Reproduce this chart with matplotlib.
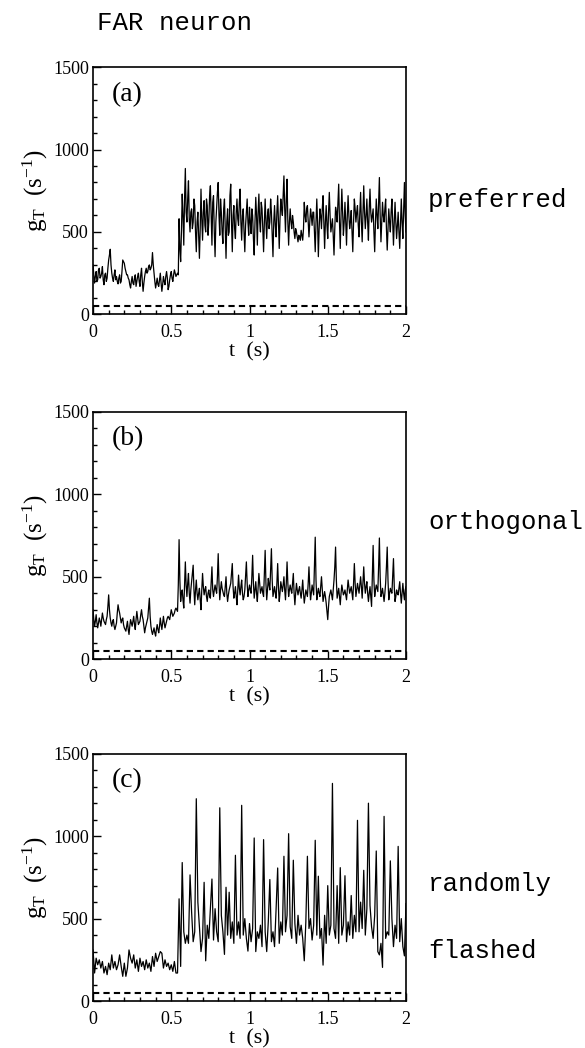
import matplotlib
matplotlib.use('Agg')
import matplotlib.pyplot as plt
import numpy as np
from matplotlib.ticker import MultipleLocator

plt.rcParams['font.family'] = ['Liberation Serif', 'DejaVu Serif']
plt.rcParams['mathtext.fontset'] = 'custom'
plt.rcParams['mathtext.rm'] = 'Liberation Serif'
plt.rcParams['mathtext.default'] = 'regular'

# g_T for the preferred direction, 5 ms steps over 0 .. 2 s
g_pref = [
    300, 240, 190, 230, 260, 200, 210, 270, 280, 220, 230, 250, 290, 210, 180, 240, 250, 200, 220, 280,
    330, 360, 395, 300, 250, 220, 200, 240, 270, 210, 230, 200, 185, 220, 240, 190, 200, 260, 330, 320,
    310, 280, 260, 240, 240, 220, 210, 180, 160, 200, 230, 190, 180, 220, 240, 170, 200, 230, 250, 200,
    170, 240, 280, 200, 140, 190, 230, 260, 280, 250, 260, 290, 300, 270, 280, 300, 375, 300, 250, 200,
    160, 190, 220, 180, 170, 210, 250, 190, 140, 180, 230, 200, 180, 230, 260, 220, 150, 170, 210, 240,
    260, 220, 200, 240, 270, 250, 230, 240, 250, 240, 580, 400, 320, 500, 730, 600, 420, 700, 885, 620,
    560, 700, 810, 580, 500, 620, 640, 520, 560, 700, 660, 500, 380, 560, 620, 470, 340, 520, 760, 580,
    450, 620, 690, 540, 500, 700, 660, 480, 560, 720, 780, 600, 420, 680, 720, 500, 350, 560, 650, 740,
    800, 600, 480, 700, 620, 500, 430, 640, 700, 520, 340, 560, 640, 480, 500, 720, 790, 560, 380, 600,
    660, 520, 460, 620, 700, 580, 540, 680, 760, 560, 450, 600, 640, 500, 380, 540, 620, 700, 560, 480,
    650, 560, 490, 640, 600, 460, 360, 560, 710, 600, 420, 620, 730, 560, 500, 680, 640, 520, 380, 560,
    700, 560, 460, 600, 640, 520, 560, 700, 620, 480, 350, 560, 660, 540, 470, 620, 720, 560, 400, 580,
    700, 640, 600, 720, 840, 640, 500, 700, 820, 560, 420, 560, 640, 560, 520, 600, 560, 500, 460, 520,
    500, 470, 440, 480, 470, 450, 510, 480, 450, 520, 680, 600, 560, 640, 660, 560, 470, 560, 640, 600,
    540, 620, 620, 500, 380, 560, 700, 560, 350, 520, 640, 600, 520, 640, 720, 560, 400, 560, 660, 540,
    460, 620, 740, 600, 500, 540, 580, 480, 360, 520, 650, 620, 560, 680, 790, 560, 400, 600, 760, 620,
    480, 560, 680, 560, 420, 600, 720, 600, 520, 560, 630, 500, 380, 560, 700, 640, 560, 620, 660, 540,
    470, 620, 740, 560, 440, 620, 780, 620, 520, 600, 700, 560, 450, 640, 760, 620, 560, 600, 640, 500,
    380, 560, 700, 600, 520, 680, 830, 600, 440, 560, 680, 600, 560, 640, 700, 520, 390, 520, 640, 560,
    500, 620, 700, 560, 420, 560, 680, 560, 460, 540, 620, 500, 400, 560, 700, 560, 460, 620, 800, 600,
    500,
]

# g_T for the orthogonal direction, 5 ms steps
g_orth = [
    300, 240, 200, 230, 270, 220, 190, 220, 250, 230, 200, 240, 280, 250, 230, 220, 210, 240, 260, 320,
    390, 300, 250, 220, 200, 230, 240, 200, 180, 200, 220, 280, 330, 300, 280, 250, 220, 240, 250, 210,
    190, 180, 170, 200, 230, 180, 150, 200, 240, 220, 200, 230, 260, 210, 180, 240, 290, 250, 210, 220,
    230, 270, 300, 260, 240, 200, 160, 190, 210, 230, 250, 310, 370, 260, 200, 170, 150, 170, 190, 160,
    140, 180, 210, 180, 160, 200, 250, 210, 180, 220, 260, 220, 190, 210, 230, 250, 260, 250, 240, 270,
    300, 280, 260, 270, 280, 300, 310, 300, 290, 450, 725, 480, 350, 400, 420, 360, 310, 450, 590, 450,
    380, 460, 520, 400, 340, 420, 470, 520, 570, 420, 330, 420, 480, 400, 360, 400, 430, 360, 300, 420,
    520, 440, 390, 420, 440, 380, 350, 400, 420, 380, 370, 460, 560, 420, 380, 420, 450, 420, 400, 500,
    640, 460, 360, 420, 470, 430, 410, 390, 380, 440, 500, 400, 350, 390, 420, 440, 460, 520, 580, 440,
    370, 400, 440, 380, 330, 420, 510, 430, 390, 440, 480, 400, 360, 380, 420, 500, 590, 460, 380, 420,
    450, 420, 400, 500, 630, 460, 370, 420, 470, 400, 350, 440, 520, 460, 400, 420, 440, 400, 380, 520,
    660, 460, 360, 420, 490, 450, 420, 540, 670, 480, 380, 410, 440, 400, 370, 460, 580, 440, 350, 400,
    470, 440, 410, 450, 500, 420, 360, 460, 590, 460, 380, 420, 450, 420, 400, 460, 520, 400, 330, 400,
    460, 420, 390, 420, 440, 400, 370, 420, 480, 400, 340, 380, 420, 400, 380, 460, 560, 440, 360, 400,
    450, 420, 390, 560, 740, 480, 360, 400, 430, 400, 380, 440, 500, 420, 350, 380, 410, 380, 340, 290,
    240, 320, 380, 400, 420, 390, 360, 420, 480, 560, 680, 480, 370, 400, 430, 380, 330, 400, 450, 420,
    390, 400, 420, 390, 360, 420, 480, 440, 400, 420, 440, 400, 360, 460, 580, 460, 380, 420, 460, 430,
    400, 450, 500, 440, 370, 460, 560, 460, 400, 440, 470, 400, 350, 400, 440, 380, 320, 500, 690, 480,
    380, 420, 450, 430, 410, 560, 735, 500, 380, 400, 430, 390, 350, 400, 460, 560, 680, 480, 360, 400,
    430, 410, 400, 500, 610, 440, 350, 380, 420, 400, 390, 430, 470, 400, 340, 400, 460, 400, 360, 420,
    440,
]

# g_T for randomly flashed bars, 10 ms steps
g_rand = [
    310, 170, 260, 220, 250, 200, 240, 170, 210, 160,
    230, 190, 280, 200, 240, 190, 220, 280, 210, 150,
    230, 150, 200, 310, 260, 230, 280, 200, 250, 180,
    260, 210, 240, 190, 250, 200, 230, 180, 270, 210,
    290, 240, 270, 300, 290, 200, 250, 210, 230, 190,
    220, 180, 240, 170, 170, 620, 210, 840, 420, 350,
    400, 350, 765, 540, 360, 420, 1227, 600, 450, 300,
    380, 720, 244, 460, 380, 560, 740, 370, 560, 420,
    360, 1172, 520, 420, 283, 690, 400, 660, 380, 480,
    350, 884, 400, 480, 380, 1187, 400, 500, 380, 303,
    470, 360, 440, 989, 300, 420, 380, 460, 330, 979,
    420, 300, 480, 737, 360, 420, 330, 560, 807, 350,
    480, 400, 878, 420, 520, 1015, 450, 380, 854, 470,
    350, 520, 400, 460, 380, 244, 480, 878, 440, 500,
    370, 460, 975, 400, 757, 380, 440, 218, 520, 350,
    700, 400, 460, 1320, 440, 380, 700, 350, 809, 400,
    460, 760, 360, 480, 400, 640, 380, 520, 420, 1096,
    420, 600, 440, 793, 400, 560, 1200, 580, 450, 380,
    520, 910, 300, 280, 350, 204, 1120, 380, 420, 400,
    850, 500, 330, 460, 380, 938, 360, 500, 330, 274,
    591,
]

# spontaneous level (dashed)
g_spont = 50

series = [g_pref, g_orth, g_rand]
panel_tags = ['(a)', '(b)', '(c)']
bottoms = [0.700, 0.371, 0.0448]

fig = plt.figure(figsize=(5.85, 10.48), dpi=100)

for g, tag, b in zip(series, panel_tags, bottoms):
    t = np.linspace(0, 2, len(g))
    ax = fig.add_axes([0.159, b, 0.535, 0.236])
    ax.plot(t, g, color='black', lw=0.9)
    ax.axhline(g_spont, color='black', lw=1.5, dashes=(3, 2))
    ax.set_xlim(0, 2)
    ax.set_ylim(0, 1500)
    ax.set_xticks([0, 0.5, 1, 1.5, 2])
    ax.set_xticklabels(['0', '0.5', '1', '1.5', '2'])
    ax.set_yticks([0, 500, 1000, 1500])
    ax.xaxis.set_minor_locator(MultipleLocator(0.1))
    ax.yaxis.set_minor_locator(MultipleLocator(100))
    ax.tick_params(which='both', direction='in', top=False, right=False,
                   labelsize=13, width=1)
    ax.tick_params(which='major', length=6)
    ax.tick_params(which='minor', length=3)
    ax.tick_params(axis='x', pad=7)
    ax.tick_params(axis='y', pad=3)
    for sp in ax.spines.values():
        sp.set_linewidth(1.2)
    ax.set_xlabel('t  (s)', fontsize=16, labelpad=1)
    ax.set_ylabel(r'g$_{T}$  (s$^{-1}$)', fontsize=18, labelpad=2)
    ax.text(0.06, 0.89, tag, transform=ax.transAxes, fontsize=20,
            ha='left', va='center')

mono = ['Liberation Mono', 'DejaVu Sans Mono']
side = dict(family=mono, fontsize=18.5, ha='left', va='center')
fig.text(97 / 585, 1 - 23 / 1048, 'FAR neuron', **side)
fig.text(428 / 585, 1 - 200 / 1048, 'preferred', **side)
fig.text(428 / 585, 1 - 522 / 1048, 'orthogonal', **side)
fig.text(428 / 585, 1 - 884 / 1048, 'randomly', **side)
fig.text(428 / 585, 1 - 951 / 1048, 'flashed', **side)

fig.savefig('out.png', dpi=100)
